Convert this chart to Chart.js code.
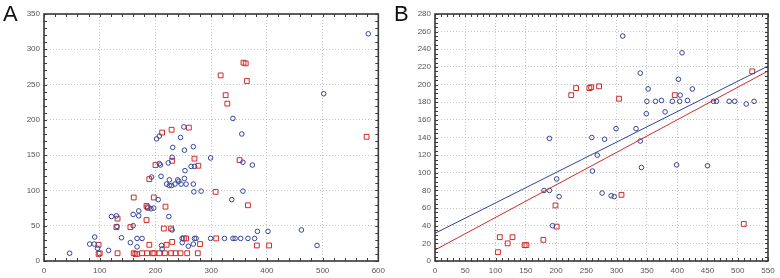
<!DOCTYPE html>
<html>
<head>
<meta charset="utf-8">
<script src="https://cdn.jsdelivr.net/npm/chart.js@4.4.0/dist/chart.umd.min.js"></script>
<style>
body { margin: 0; background: #fff; width: 780px; height: 278px; position: relative; overflow: hidden; font-family: "Liberation Sans", Arial, sans-serif; }
canvas { position: absolute; top: 0; }
.lbl { position: absolute; top: 3px; font-size: 22px; line-height: 22px; color: #111; }
</style>
</head>
<body>
<canvas id="canvasA" width="390" height="278" style="left:0"></canvas>
<canvas id="canvasB" width="390" height="278" style="left:390px"></canvas>
<div class="lbl" style="left:3px">A</div>
<div class="lbl" style="left:394px">B</div>
<script>
// panel A - blue circles
const aBlueX = [46, 82, 90, 91, 96, 116, 121, 130, 131, 139, 155, 160, 160, 167, 167, 170, 170, 176, 186, 192, 197, 193, 202, 207, 205, 207, 209, 210, 211, 212, 220, 225, 229, 235, 223, 225, 231, 230, 224, 230, 240, 242, 246, 245, 248, 248, 252, 253, 252, 255, 259, 264, 268, 270, 268, 269, 270, 273, 268, 251, 299, 357, 374, 282, 357, 337, 383, 402, 462, 299, 324, 339, 343, 353, 366, 378, 490, 582, 502, 339, 355];
const aBlueY = [11, 24, 24, 34, 18, 15, 63, 64, 49, 33, 26, 66, 50, 32, 20, 64, 71, 32, 75, 74, 75, 119, 173, 177, 87, 138, 136, 120, 22, 17, 109, 107, 107, 109, 139, 115, 161, 147, 63, 44, 115, 113, 109, 175, 26, 32, 157, 128, 117, 109, 21, 134, 162, 134, 109, 98, 32, 32, 24, 190, 146, 140, 136, 99, 99, 87, 42, 42, 44, 32, 32, 32, 32, 32, 32, 32, 22, 322, 237, 202, 180];
// panel A - red squares
const aRedX = [98, 98, 100, 132, 130, 132, 155, 161, 161, 164, 167, 176, 185, 184, 186, 184, 189, 189, 197, 195, 198, 207, 217, 228, 236, 245, 257, 276, 200, 212, 215, 218, 220, 228, 230, 230, 229, 251, 255, 270, 277, 280, 351, 308, 366, 309, 382, 404, 579, 358, 362, 317, 364, 326, 329, 260];
const aRedY = [23, 10, 11, 11, 48, 60, 48, 90, 11, 10, 10, 11, 11, 78, 76, 58, 23, 116, 90, 11, 11, 11, 11, 11, 11, 11, 11, 11, 136, 182, 46, 77, 23, 46, 142, 27, 186, 32, 32, 145, 135, 24, 143, 98, 79, 32, 22, 22, 176, 281, 280, 263, 255, 235, 223, 189];

// panel B - blue circles
const bBlueX = [189, 180, 189, 201, 205, 194, 310, 408, 339, 402, 425, 352, 405, 417, 350, 364, 374, 392, 404, 460, 465, 486, 495, 514, 527, 349, 380, 299, 332, 259, 280, 339, 268, 260, 341, 399, 450, 276, 291, 296];
const bBlueY = [139, 80, 80, 93, 73, 40, 255, 236, 213, 206, 195, 195, 188, 182, 181, 181, 182, 181, 181, 181, 181, 181, 181, 178, 181, 167, 169, 150, 150, 140, 138, 136, 120, 102, 106, 109, 108, 77, 74, 73];
// panel B - red squares
const bRedX = [104, 107, 120, 128, 148, 151, 179, 199, 201, 225, 233, 255, 258, 271, 304, 396, 524, 308, 510];
const bRedY = [10, 27, 20, 27, 18, 18, 24, 63, 39, 188, 196, 196, 197, 198, 184, 188, 215, 75, 42];
// panel B - fitted lines (end points)
const bLineX = [0, 550];
const bBlueFit = [31.4, 221];
const bRedFit = [12.5, 215.4];

const BLUE = '#34449a';
const RED = '#d02b2b';

function pts(xs, ys) {
    return xs.map((x, i) => ({ x: x, y: ys[i] }));
}

const framePlugin = {
    id: 'frame',
    afterDraw(chart, args, o) {
        const { ctx, chartArea: a, scales } = chart;
        ctx.save();
        ctx.strokeStyle = '#3a3a3a';
        ctx.lineWidth = 1;
        ctx.beginPath();
        for (let v = scales.x.min; v <= scales.x.max + 0.001; v += o.xMinor) {
            const px = Math.round(scales.x.getPixelForValue(v)) + 0.5;
            ctx.moveTo(px, a.top); ctx.lineTo(px, a.top + 3);
            ctx.moveTo(px, a.bottom); ctx.lineTo(px, a.bottom - 3);
        }
        for (let v = scales.y.min; v <= scales.y.max + 0.001; v += o.yMinor) {
            const py = Math.round(scales.y.getPixelForValue(v)) + 0.5;
            ctx.moveTo(a.left, py); ctx.lineTo(a.left + 3, py);
            ctx.moveTo(a.right, py); ctx.lineTo(a.right - 3, py);
        }
        ctx.stroke();
        ctx.lineWidth = 1.6;
        ctx.strokeRect(a.left, a.top, a.width, a.height);
        ctx.restore();
    }
};

function makeConfig(datasets, ax) {
    return {
        type: 'scatter',
        data: { datasets: datasets },
        options: {
            responsive: false,
            animation: false,
            layout: { padding: { left: 0, top: 14, right: ax.rightPad, bottom: 0 } },
            plugins: {
                legend: { display: false },
                tooltip: { enabled: false },
                frame: { xMinor: ax.xMinor, yMinor: ax.yMinor }
            },
            scales: {
                x: {
                    type: 'linear', min: 0, max: ax.xMax,
                    ticks: { stepSize: ax.xStep, color: '#555', font: { size: 8, family: 'Liberation Sans' }, padding: 5, maxRotation: 0 },
                    grid: { color: '#c4c4c4', drawTicks: false },
                    border: { display: false, dash: [1, 2] },
                    afterFit: s => { s.height = 17; }
                },
                y: {
                    type: 'linear', min: 0, max: ax.yMax,
                    ticks: { stepSize: ax.yStep, color: '#555', font: { size: 8, family: 'Liberation Sans' }, padding: 4 },
                    grid: { color: '#c4c4c4', drawTicks: false },
                    border: { display: false, dash: [1, 2] },
                    afterFit: s => { s.width = ax.yWidth; }
                }
            }
        },
        plugins: [framePlugin]
    };
}

function circles(xs, ys) {
    return { data: pts(xs, ys), pointStyle: 'circle', pointRadius: 2.3, borderColor: BLUE, backgroundColor: 'rgba(0,0,0,0)', borderWidth: 1 };
}
function squares(xs, ys) {
    return { data: pts(xs, ys), pointStyle: 'rect', pointRadius: 3.4, borderColor: RED, backgroundColor: 'rgba(0,0,0,0)', borderWidth: 1 };
}
function fitLine(ys, color) {
    return { data: pts(bLineX, ys), showLine: true, pointRadius: 0, borderColor: color, borderWidth: 1, fill: false };
}

new Chart(document.getElementById('canvasA'), makeConfig(
    [circles(aBlueX, aBlueY), squares(aRedX, aRedY)],
    { xMax: 600, xStep: 100, yMax: 350, yStep: 50, xMinor: 20, yMinor: 10, yWidth: 44, rightPad: 10 }
));

new Chart(document.getElementById('canvasB'), makeConfig(
    [fitLine(bBlueFit, BLUE), fitLine(bRedFit, RED), circles(bBlueX, bBlueY), squares(bRedX, bRedY)],
    { xMax: 550, xStep: 50, yMax: 280, yStep: 20, xMinor: 10, yMinor: 5, yWidth: 45, rightPad: 12 }
));
</script>
</body>
</html>
